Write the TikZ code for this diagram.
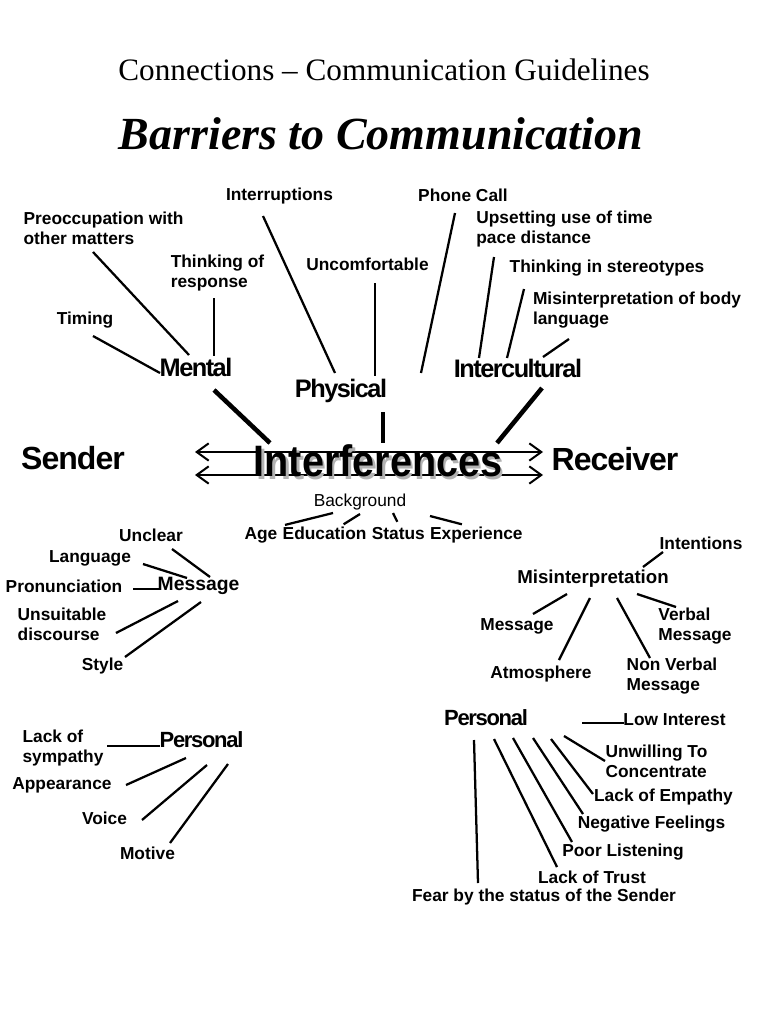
\documentclass[tikz,border=0pt]{standalone}
\usepackage{xcolor}
\usepackage{graphicx}
\usepackage{fontspec}
\setmainfont{Liberation Sans}
\newfontfamily\titlefont{Liberation Serif}
\usetikzlibrary{positioning,arrows.meta}
\newcommand{\hubfont}[2]{\fontsize{#1}{#1}\selectfont\bfseries\addfontfeature{LetterSpace=#2}}
\newcommand{\shadowed}[1]{\scalebox{0.9}[1]{\rlap{\kern2.2pt\raisebox{-2pt}{\color{gray!60}#1}}{\color{black}#1}}}

\begin{document}
\begin{tikzpicture}[
  x=0.75pt, y=-0.75pt,
  lbl/.style={font=\fontsize{13}{15}\selectfont\bfseries, align=left, inner sep=0pt},
  hub/.style={font=\hubfont{19}{-6}, inner sep=0pt},
  side/.style={font=\hubfont{24}{-3}, inner sep=0pt},
  ln/.style={line width=1.7pt},
  trunk/.style={line width=3.4pt},
  dbl/.style={{Straight Barb[length=9pt,width=13pt]}-{Straight Barb[length=9pt,width=13pt]}, line width=1.5pt}
]
\useasboundingbox (0,0) rectangle (768,1024);

% titles
\node[font=\titlefont\fontsize{23.4}{28}\selectfont] (subtitle) at (384,70) {Connections – Communication Guidelines};
\node[font=\titlefont\bfseries\itshape\fontsize{34.5}{40}\selectfont] (title) at (381,134) {Barriers to Communication};

% hubs
\node[hub] (mental) at (196,367) {Mental};
\node[hub] (physical) at (341,391) {Physical};
\node[hub] (intercult) at (518,368) {Intercultural};
\node[side] (sender) at (73,458) {Sender};
\node[side] (receiver) at (615,459) {Receiver};

% top labels
\node[lbl] (pre) at (103.5,228) {Preoccupation with\\other matters};
\node[lbl] (tor) at (217.5,273) {Thinking of\\response};
\node[lbl] (timing) at (85,320) {Timing};
\node[lbl] (interr) at (279.5,196) {Interruptions};
\node[lbl] (uncomf) at (367.5,264) {Uncomfortable};
\node[lbl] (phone) at (463,195) {Phone Call};
\node[lbl] (upset) at (564.5,229) {Upsetting use of time\\pace distance};
\node[lbl] (stereo) at (607,268) {Thinking in stereotypes};
\node[lbl] (body) at (637,310) {Misinterpretation of body\\language};

\draw[ln] ([shift={(8,16)}]timing.center) -- ([shift={(-36,6)}]mental.center);
\draw[ln] ([shift={(-10.5,24)}]pre.center) -- ([shift={(-7,-12)}]mental.center);
\draw[ln] ([shift={(-3.5,25)}]tor.center) -- ([shift={(18,-11)}]mental.center);
\draw[ln] ([shift={(-16.5,20)}]interr.center) -- ([shift={(-6,-18)}]physical.center);
\draw[ln] ([shift={(7.5,19)}]uncomf.center) -- ([shift={(34,-15)}]physical.center);
\draw[ln] ([shift={(-8,18)}]phone.center) -- ([shift={(80,-18)}]physical.center);
\draw[ln] ([shift={(-70.5,28)}]upset.center) -- ([shift={(-39,-10)}]intercult.center);
\draw[ln] ([shift={(-83,21)}]stereo.center) -- ([shift={(-11,-10)}]intercult.center);
\draw[ln] ([shift={(-68,29)}]body.center) -- ([shift={(25,-11)}]intercult.center);

% sender -> receiver
\coordinate (upL) at (195,452);
\coordinate (upR) at (543,452);
\coordinate (loL) at (195,475);
\coordinate (loR) at (543,475);
\draw[dbl] (upL) -- (upR);
\draw[dbl] (loL) -- (loR);

\node[inner sep=0pt, font=\fontsize{33}{33}\selectfont\bfseries] (interf) at (378,462) {\shadowed{Interferences}};

\draw[trunk] ([shift={(18,23)}]mental.center) -- ([shift={(-108,-19)}]interf.center);
\draw[trunk] ([shift={(42,21)}]physical.center) -- ([shift={(5,-19)}]interf.center);
\draw[trunk] ([shift={(24,20)}]intercult.center) -- ([shift={(119,-19)}]interf.center);

% background
\node[inner sep=0pt, font=\fontsize{13}{15}\selectfont] (backgr) at (360,502) {Background};
\node[lbl] (age) at (261,535) {Age};
\node[lbl, base right=3.6pt of age] (edu) {Education};
\node[lbl, base right=3.6pt of edu] (status) {Status};
\node[lbl, base right=3.6pt of status] (exper) {Experience};

\draw[ln] ([shift={(-27,11)}]backgr.center) -- ([shift={(24,-2)}]age.north);
\draw[ln] ([shift={(0,12)}]backgr.center) -- ([shift={(19,-2)}]edu.north);
\draw[ln] ([shift={(33,11)}]backgr.center) -- ([shift={(-1,-5)}]status.north);
\draw[ln] ([shift={(70,14)}]backgr.center) -- ([shift={(-14.5,-2)}]exper.north);

% message
\node[lbl, font=\fontsize{14.5}{17}\selectfont\bfseries] (msg) at (198.5,586) {Message};
\node[lbl] (unclear) at (151,535) {Unclear};
\node[lbl] (lang) at (90,558) {Language};
\node[lbl] (pron) at (64,586) {Pronunciation};
\node[lbl] (unsuit) at (62,624) {Unsuitable\\discourse};
\node[lbl] (style) at (102.5,666) {Style};

\draw[ln] ([shift={(21,14)}]unclear.center) -- ([shift={(11.5,-9)}]msg.center);
\draw[ln] ([shift={(53,6)}]lang.center) -- ([shift={(-11.5,-8)}]msg.center);
\draw[ln] ([shift={(69,3)}]pron.center) -- ([shift={(-38.5,3)}]msg.center);
\draw[ln] ([shift={(54,9)}]unsuit.center) -- ([shift={(-20.5,15)}]msg.center);
\draw[ln] ([shift={(22.5,-9)}]style.center) -- ([shift={(2.5,16)}]msg.center);

% misinterpretation
\node[lbl, font=\fontsize{14}{17}\selectfont\bfseries] (mis) at (593,579) {Misinterpretation};
\node[lbl] (intent) at (701,543) {Intentions};
\node[lbl] (mmsg) at (517,626) {Message};
\node[lbl] (atmos) at (541,674) {Atmosphere};
\node[lbl] (nonverb) at (672,676) {Non Verbal\\Message};
\node[lbl] (verbal) at (695,626.5) {Verbal\\Message};

\draw[ln] ([shift={(-38,9)}]intent.center) -- ([shift={(50,-12)}]mis.center);
\draw[ln] ([shift={(-26,15)}]mis.center) -- ([shift={(16,-12)}]mmsg.center);
\draw[ln] ([shift={(-3,19)}]mis.center) -- ([shift={(18,-14)}]atmos.center);
\draw[ln] ([shift={(24,19)}]mis.center) -- ([shift={(-22,-18)}]nonverb.center);
\draw[ln] ([shift={(44,15)}]mis.center) -- ([shift={(-19,-19.5)}]verbal.center);

% personal (left)
\node[hub, font=\hubfont{16.5}{-6}] (perL) at (201.5,740) {Personal};
\node[lbl] (sympathy) at (63,748) {Lack of\\sympathy};
\node[lbl] (appear) at (62,785) {Appearance};
\node[lbl] (voice) at (104.5,818) {Voice};
\node[lbl] (motive) at (147.5,853) {Motive};

\draw[ln] ([shift={(44,-2)}]sympathy.center) -- ([shift={(-41.5,6)}]perL.center);
\draw[ln] ([shift={(64,0)}]appear.center) -- ([shift={(-15.5,18)}]perL.center);
\draw[ln] ([shift={(37.5,2)}]voice.center) -- ([shift={(5.5,25)}]perL.center);
\draw[ln] ([shift={(22.5,-10)}]motive.center) -- ([shift={(26.5,24)}]perL.center);

% personal (right)
\node[hub, font=\hubfont{16.5}{-6}] (perR) at (486,718) {Personal};
\node[lbl] (lowint) at (674.5,720) {Low Interest};
\node[lbl] (unwill) at (656.5,761) {Unwilling To\\Concentrate};
\node[lbl] (empathy) at (663.5,797) {Lack of Empathy};
\node[lbl] (negfeel) at (651.5,824) {Negative Feelings};
\node[lbl] (poorlist) at (623,852) {Poor Listening};
\node[lbl] (trust) at (592,877) {Lack of Trust};
\node[lbl] (fear) at (544,897) {Fear by the status of the Sender};

\draw[ln] ([shift={(96,5)}]perR.center) -- ([shift={(-50.5,3)}]lowint.center);
\draw[ln] ([shift={(78,18)}]perR.center) -- ([shift={(-51.5,0)}]unwill.center);
\draw[ln] ([shift={(65,21)}]perR.center) -- ([shift={(-70.5,-3)}]empathy.center);
\draw[ln] ([shift={(47,20)}]perR.center) -- ([shift={(-68.5,-10)}]negfeel.center);
\draw[ln] ([shift={(27,20)}]perR.center) -- ([shift={(-51,-10)}]poorlist.center);
\draw[ln] ([shift={(8,21)}]perR.center) -- ([shift={(-35,-10)}]trust.center);
\draw[ln] ([shift={(-12,22)}]perR.center) -- ([shift={(-66,-14)}]fear.center);
\end{tikzpicture}
\end{document}
